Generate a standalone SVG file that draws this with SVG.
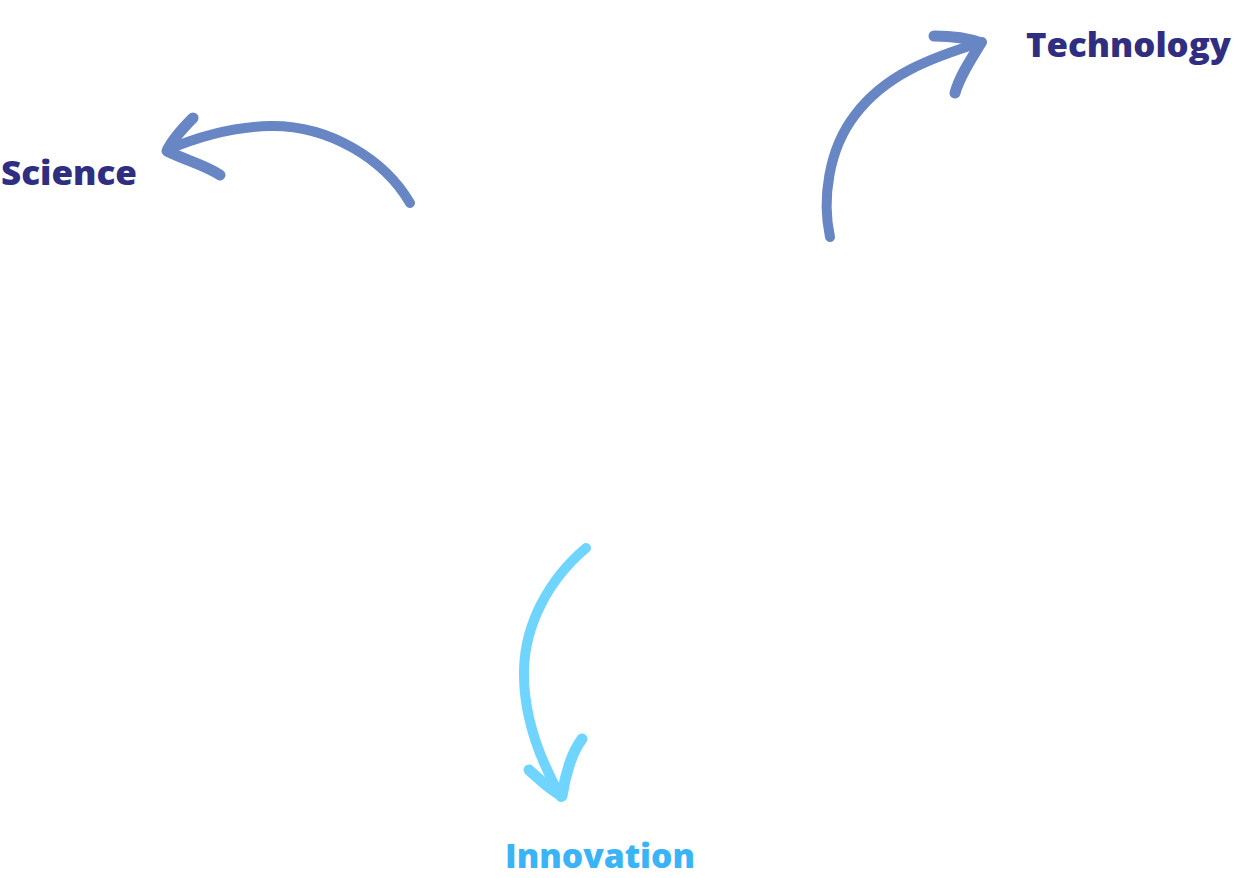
<svg xmlns="http://www.w3.org/2000/svg" width="1234" height="878" viewBox="0 0 1234 878">
<style>
.lbl{font-family:"Open Sans","Noto Sans","Liberation Sans",sans-serif;font-weight:800;font-size:34px}
.dark{fill:#2F2E80}
.light{fill:#3AB4F6}
.arr{fill:none;stroke-linecap:round;stroke-linejoin:round}
.blue{stroke:#6886C3}
.cyan{stroke:#6FD5FF}
</style>
<rect width="1234" height="878" fill="#FFFFFF"/>
<g id="connectors">
<g id="arrow-science">
<path class="arr blue" stroke-width="10" d="M410,203 C385,160 330,125 270,126 C230,127 195,138 167,150"/>
<path class="arr blue" stroke-width="11" d="M193,118 C183,128 172,140 167,151 C185,160 205,165 220,175"/>
</g>
<g id="arrow-technology">
<path class="arr blue" stroke-width="10" d="M830,237 C822,200 828,150 855,115 C885,75 930,58 982,42"/>
<path class="arr blue" stroke-width="11" d="M934,36 C950,36 968,38 981,43 C972,58 960,75 955,93"/>
</g>
<g id="arrow-innovation">
<path class="arr cyan" stroke-width="10" d="M586,548 C548,580 525,625 524,670 C523,715 540,760 561,797"/>
<path class="arr cyan" stroke-width="11" d="M529,770 C540,780 550,790 562,796 C565,775 572,752 582,739"/>
</g>
</g>
<g id="node-science"><text class="lbl dark" x="1" y="185" textLength="136" lengthAdjust="spacingAndGlyphs">Science</text></g>
<g id="node-technology"><text class="lbl dark" x="1026" y="57" textLength="205" lengthAdjust="spacingAndGlyphs">Technology</text></g>
<g id="node-innovation"><text class="lbl light" x="505" y="868" textLength="190" lengthAdjust="spacingAndGlyphs">Innovation</text></g>
</svg>
